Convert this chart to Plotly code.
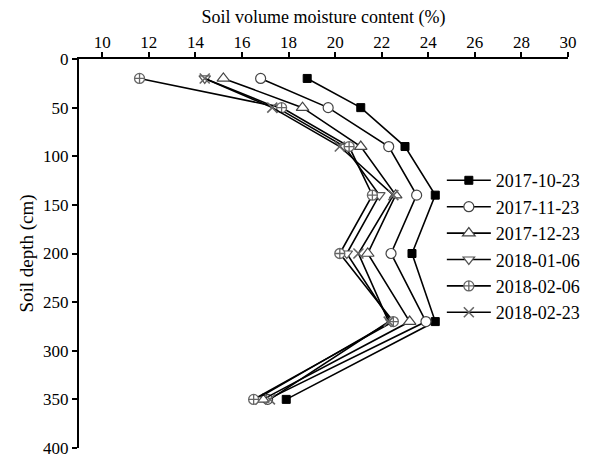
import plotly.graph_objects as go

# Soil depth of each sampling layer (cm)
depth = [20, 50, 90, 140, 200, 270, 350]

# Soil volumetric moisture content (%) for each sampling date
dates = ["2017-10-23", "2017-11-23", "2017-12-23", "2018-01-06", "2018-02-06", "2018-02-23"]
m_20171023 = [18.8, 21.1, 23.0, 24.3, 23.3, 24.3, 17.9]
m_20171123 = [16.8, 19.7, 22.3, 23.5, 22.4, 23.9, 17.1]
m_20171223 = [15.2, 18.6, 21.1, 22.6, 21.4, 23.2, 16.9]
m_20180106 = [14.4, 17.5, 20.4, 21.9, 20.5, 22.4, 16.6]
m_20180206 = [11.6, 17.7, 20.6, 21.6, 20.2, 22.5, 16.5]
m_20180223 = [14.4, 17.3, 20.2, 22.5, 21.0, 22.3, 17.2]
series = [m_20171023, m_20171123, m_20171223, m_20180106, m_20180206, m_20180223]

x_ticks = [10, 12, 14, 16, 18, 20, 22, 24, 26, 28, 30]
y_ticks = [0, 50, 100, 150, 200, 250, 300, 350, 400]

styles = [
    dict(symbol="square", size=8, color="black", line=dict(color="black", width=1)),
    dict(symbol="circle", size=10, color="white", line=dict(color="#444", width=1.2)),
    dict(symbol="triangle-up", size=11, color="white", line=dict(color="#444", width=1.2)),
    dict(symbol="triangle-down", size=10, color="white", line=dict(color="#555", width=1.2)),
    dict(symbol="circle-cross", size=10, color="white", line=dict(color="#666", width=1.3)),
    dict(symbol="x-thin", size=10, color="#666", line=dict(color="#666", width=1.6)),
]

fig = go.Figure()
for name, vals, mk in zip(dates, series, styles):
    fig.add_trace(go.Scatter(
        x=vals, y=depth, name=name, mode="lines+markers",
        line=dict(color="black", width=1.6),
        marker=mk,
    ))

font_family = "Liberation Serif, Times New Roman, serif"
fig.update_layout(
    width=594, height=459,
    margin=dict(l=79, r=26, t=59, b=11, autoexpand=False),
    paper_bgcolor="white", plot_bgcolor="white",
    font=dict(family=font_family, size=17, color="black"),
    showlegend=True,
    legend=dict(
        x=0.742, y=0.735, xanchor="left", yanchor="top",
        bgcolor="rgba(0,0,0,0)", font=dict(size=18, family=font_family),
        tracegroupgap=0, itemwidth=44,
    ),
    xaxis=dict(
        side="top", range=[9, 30], tickvals=x_ticks,
        ticks="outside", ticklen=5, tickwidth=1.5, tickcolor="black",
        ticklabelstandoff=-3,
        showline=True, linecolor="black", linewidth=2,
        showgrid=False, zeroline=False,
        title=dict(text="Soil volume moisture content (%)", font=dict(size=18), standoff=5),
        tickfont=dict(size=17),
    ),
    yaxis=dict(
        range=[400, 0], tickvals=y_ticks,
        ticks="outside", ticklen=5, tickwidth=1.5, tickcolor="black",
        showline=True, linecolor="black", linewidth=2,
        showgrid=False, zeroline=False,
        title=dict(text="Soil depth (cm)", font=dict(size=19), standoff=4),
        tickfont=dict(size=17),
    ),
)

fig.write_html("out.html")
